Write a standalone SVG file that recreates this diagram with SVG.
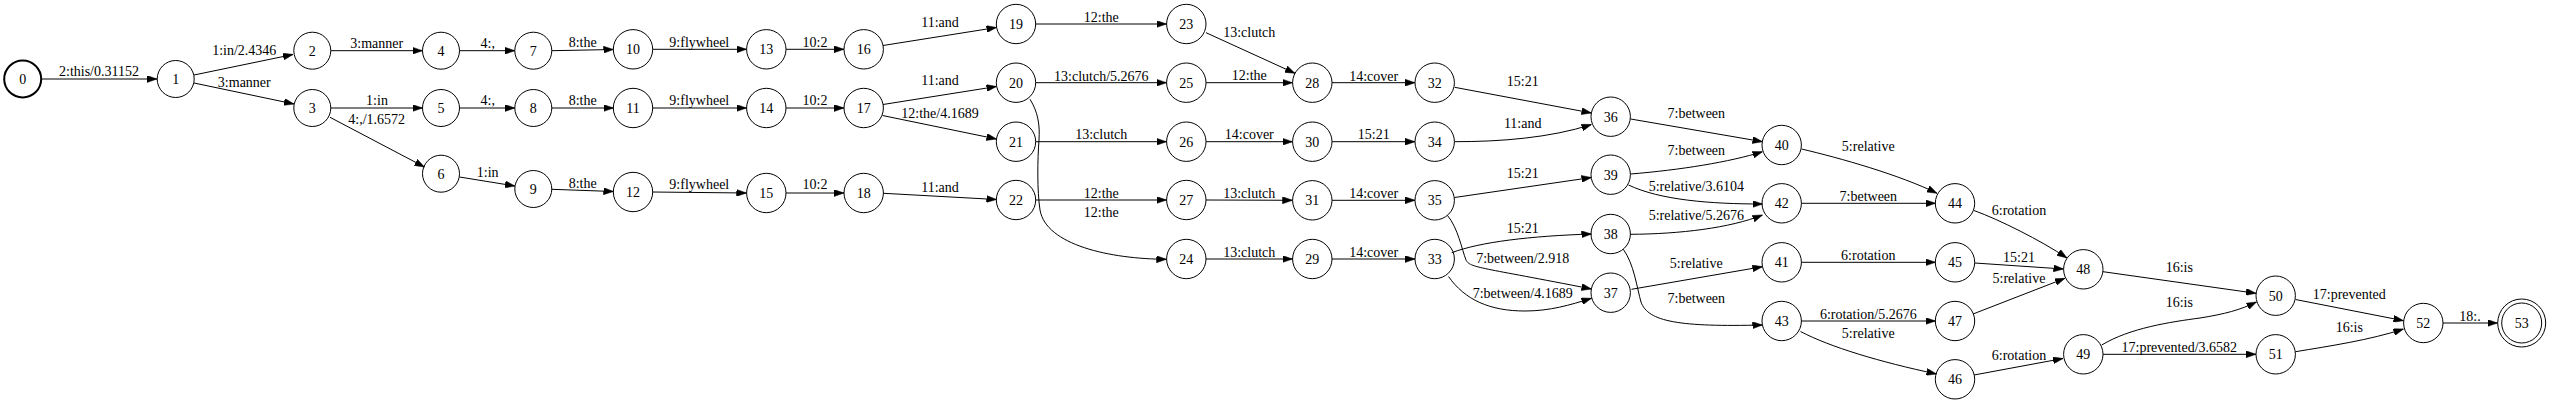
<svg xmlns="http://www.w3.org/2000/svg" width="2550" height="404" viewBox="0 0 2550 404">
<style>
text{font-family:"Liberation Serif","Times New Roman",serif;font-size:14px;fill:#000;text-anchor:middle}
.n circle{fill:none;stroke:#000;stroke-width:1}
.e path{fill:none;stroke:#000;stroke-width:1;marker-end:url(#arr)}
</style>
<defs>
<marker id="arr" markerUnits="userSpaceOnUse" markerWidth="10" markerHeight="7" viewBox="0 0 10 7" refX="10" refY="3.5" orient="auto"><path d="M0,0 L10,3.5 L0,7 z" fill="#000" stroke="#000" stroke-width="0.5"/></marker>
</defs>
<rect width="2550" height="404" fill="#fff"/>
<g id="edges" class="e">
<path d="M42,79 L157,79"/><text x="99" y="75.5">2:this/0.31152</text>
<path d="M194,75 L293,54.5"/><text x="244.3" y="55">1:in/2.4346</text>
<path d="M194,83 L294,104"/><text x="244.3" y="86.5">3:manner</text>
<path d="M331,50.7 L422.5,50.7"/><text x="376.7" y="47.5">3:manner</text>
<path d="M331,108 L422.5,108"/><text x="377" y="105">1:in</text>
<path d="M330,117.3 L424.5,167"/><text x="376.7" y="124.3">4:,/1.6572</text>
<path d="M459.5,50.7 L514.8,50.7"/><text x="487.7" y="47.5">4:,</text>
<path d="M459.5,108 L514.8,108"/><text x="487.7" y="105">4:,</text>
<path d="M459.5,177 L515,186"/><text x="487.7" y="176.5">1:in</text>
<path d="M551.8,50.7 L613.5,49.5"/><text x="582.7" y="46.5">8:the</text>
<path d="M551.8,108 L613.5,108"/><text x="582.7" y="105">8:the</text>
<path d="M551.8,189.3 L613.5,191.5"/><text x="582.7" y="187.5">8:the</text>
<path d="M652.8,49.3 L746.5,49.3"/><text x="699.3" y="46.5">9:flywheel</text>
<path d="M652.8,108 L746.5,108"/><text x="699.3" y="105">9:flywheel</text>
<path d="M652.8,192 L746.5,193"/><text x="699.3" y="188.5">9:flywheel</text>
<path d="M786,49.3 L844,49.3"/><text x="815" y="46.5">10:2</text>
<path d="M786,108 L844,108"/><text x="815" y="105">10:2</text>
<path d="M786,193 L844,193"/><text x="815" y="189">10:2</text>
<path d="M883,45.5 L996.5,27.5"/><text x="940" y="26.5">11:and</text>
<path d="M883,104.5 L996.5,86.5"/><text x="940" y="85.3">11:and</text>
<path d="M882.5,115.5 L996.5,139"/><text x="940" y="117.7">12:the/4.1689</text>
<path d="M883.5,193.3 L996.5,199.5"/><text x="940" y="191.7">11:and</text>
<path d="M1035.8,24 L1166.5,24"/><text x="1101.3" y="21.7">12:the</text>
<path d="M1035.8,82.7 L1166.5,82.7"/><text x="1101.3" y="80.7">13:clutch/5.2676</text>
<path d="M1030,99.3 C1038,112 1040,125 1039,140 C1037.5,160 1037,190 1040,210 C1046,245 1110,259 1166.5,259.3"/><text x="1101.3" y="216.7">12:the</text>
<path d="M1035.8,141.7 L1166.5,141.7"/><text x="1101.3" y="138.7">13:clutch</text>
<path d="M1035.8,200 L1166.5,200"/><text x="1101.3" y="197.7">12:the</text>
<path d="M1206,32.7 L1295,73.3"/><text x="1249.3" y="36.7">13:clutch</text>
<path d="M1206,82.7 L1292.5,82.7"/><text x="1249.3" y="80">12:the</text>
<path d="M1206,259 L1292.5,259"/><text x="1249.3" y="256.7">13:clutch</text>
<path d="M1206,141.7 L1292.5,141.7"/><text x="1249.3" y="138.7">14:cover</text>
<path d="M1206,200 L1292.5,200.3"/><text x="1249.3" y="197.7">13:clutch</text>
<path d="M1332,82.7 L1415,82.7"/><text x="1373.7" y="80.5">14:cover</text>
<path d="M1332,141.7 L1415,141.7"/><text x="1373.7" y="138.7">15:21</text>
<path d="M1332,200.3 L1415,200.3"/><text x="1373.7" y="197.7">14:cover</text>
<path d="M1332,259 L1415,259"/><text x="1373.7" y="256.7">14:cover</text>
<path d="M1454.7,87.3 L1591.5,113"/><text x="1522.7" y="86">15:21</text>
<path d="M1454.7,141.7 C1500,141.7 1550,138 1591.5,124.5"/><text x="1522.7" y="127.7">11:and</text>
<path d="M1454.5,197.5 L1591.5,177.5"/><text x="1522.7" y="177.7">15:21</text>
<path d="M1451.7,252.7 C1480,242 1530,236 1591.5,234"/><text x="1522.7" y="233">15:21</text>
<path d="M1447.5,215.5 C1458,228 1462,250 1466,260 C1470,268 1480,267 1591.5,289"/><text x="1522.7" y="263.3">7:between/2.918</text>
<path d="M1448.5,276.5 C1465,300 1490,311 1525,311 C1550,311 1570,305 1591.5,298.3"/><text x="1522.7" y="298.3">7:between/4.1689</text>
<path d="M1630.7,119 L1762.5,141.7"/><text x="1696.3" y="118.3">7:between</text>
<path d="M1630.5,174 C1680,170 1730,162 1762.5,151.7"/><text x="1696.3" y="155">7:between</text>
<path d="M1628.5,185 C1660,200 1710,204 1762.5,204"/><text x="1696.3" y="190.7">5:relative/3.6104</text>
<path d="M1630.5,234.3 C1680,234 1730,228 1762.5,215"/><text x="1696.3" y="220">5:relative/5.2676</text>
<path d="M1631.5,289.3 L1762.5,266.7"/><text x="1696.3" y="267.7">5:relative</text>
<path d="M1623.3,249.3 C1634,264 1637,288 1641,302 C1648,322 1680,327 1762.5,325"/><text x="1696.3" y="303.3">7:between</text>
<path d="M1801.5,149 C1840,158 1900,175 1937,193.3"/><text x="1868.3" y="150.7">5:relative</text>
<path d="M1801.5,203.3 L1935.5,203.3"/><text x="1868.3" y="201">7:between</text>
<path d="M1801.5,262.3 L1935.5,262.3"/><text x="1868.3" y="260">6:rotation</text>
<path d="M1801.5,321 L1935.5,321"/><text x="1868.3" y="318.7">6:rotation/5.2676</text>
<path d="M1800.5,331.5 C1830,347 1880,362 1936.5,374"/><text x="1868.3" y="337.7">5:relative</text>
<path d="M1974,210.5 C2000,220 2040,240 2067,258"/><text x="2019" y="215">6:rotation</text>
<path d="M1974.8,263 L2063.5,269"/><text x="2019" y="261.7">15:21</text>
<path d="M1973,314 L2065,278.3"/><text x="2019" y="282.7">5:relative</text>
<path d="M1974,375 L2063,358.5"/><text x="2019" y="360">6:rotation</text>
<path d="M2103,271.7 L2256,293.3"/><text x="2179.3" y="271.7">16:is</text>
<path d="M2101.7,345 C2130,328 2170,322 2200,318 C2225,314 2240,310 2256.5,302"/><text x="2179.3" y="306.7">16:is</text>
<path d="M2103,354.3 L2256,354.3"/><text x="2179.3" y="351.7">17:prevented/3.6582</text>
<path d="M2295.5,299.5 L2403.5,320.7"/><text x="2349.3" y="299.3">17:prevented</text>
<path d="M2295.5,351.7 C2330,346 2370,340 2403.5,329"/><text x="2349.3" y="331.7">16:is</text>
<path d="M2443,323 L2497.5,323"/><text x="2470" y="320.7">18:.</text>
</g>
<g id="n0" class="n"><circle cx="22.7" cy="79" r="18.5" style="stroke-width:2"/><text x="22.7" y="84">0</text></g>
<g id="n1" class="n"><circle cx="175.7" cy="79" r="18.5"/><text x="175.7" y="84">1</text></g>
<g id="n2" class="n"><circle cx="312.3" cy="50.7" r="18.5"/><text x="312.3" y="55.7">2</text></g>
<g id="n3" class="n"><circle cx="312.3" cy="108" r="18.5"/><text x="312.3" y="113">3</text></g>
<g id="n4" class="n"><circle cx="441" cy="50.7" r="18.5"/><text x="441" y="55.7">4</text></g>
<g id="n5" class="n"><circle cx="441" cy="108" r="18.5"/><text x="441" y="113">5</text></g>
<g id="n6" class="n"><circle cx="441" cy="173.7" r="18.5"/><text x="441" y="178.7">6</text></g>
<g id="n7" class="n"><circle cx="533.3" cy="50.7" r="18.5"/><text x="533.3" y="55.7">7</text></g>
<g id="n8" class="n"><circle cx="533.3" cy="108" r="18.5"/><text x="533.3" y="113">8</text></g>
<g id="n9" class="n"><circle cx="533.3" cy="189" r="18.5"/><text x="533.3" y="194">9</text></g>
<g id="n10" class="n"><circle cx="633" cy="49.3" r="19.7"/><text x="633" y="54.3">10</text></g>
<g id="n11" class="n"><circle cx="633" cy="108" r="19.7"/><text x="633" y="113">11</text></g>
<g id="n12" class="n"><circle cx="633" cy="192" r="19.7"/><text x="633" y="197">12</text></g>
<g id="n13" class="n"><circle cx="766.3" cy="49.3" r="19.7"/><text x="766.3" y="54.3">13</text></g>
<g id="n14" class="n"><circle cx="766.3" cy="108" r="19.7"/><text x="766.3" y="113">14</text></g>
<g id="n15" class="n"><circle cx="766.3" cy="193" r="19.7"/><text x="766.3" y="198">15</text></g>
<g id="n16" class="n"><circle cx="863.7" cy="49.3" r="19.7"/><text x="863.7" y="54.3">16</text></g>
<g id="n17" class="n"><circle cx="863.7" cy="108" r="19.7"/><text x="863.7" y="113">17</text></g>
<g id="n18" class="n"><circle cx="863.7" cy="193" r="19.7"/><text x="863.7" y="198">18</text></g>
<g id="n19" class="n"><circle cx="1016" cy="24" r="19.7"/><text x="1016" y="29">19</text></g>
<g id="n20" class="n"><circle cx="1016" cy="82.7" r="19.7"/><text x="1016" y="87.7">20</text></g>
<g id="n21" class="n"><circle cx="1016" cy="141.7" r="19.7"/><text x="1016" y="146.7">21</text></g>
<g id="n22" class="n"><circle cx="1016" cy="200" r="19.7"/><text x="1016" y="205">22</text></g>
<g id="n23" class="n"><circle cx="1186.3" cy="24" r="19.7"/><text x="1186.3" y="29">23</text></g>
<g id="n24" class="n"><circle cx="1186.3" cy="259" r="19.7"/><text x="1186.3" y="264">24</text></g>
<g id="n25" class="n"><circle cx="1186.3" cy="82.7" r="19.7"/><text x="1186.3" y="87.7">25</text></g>
<g id="n26" class="n"><circle cx="1186.3" cy="141.7" r="19.7"/><text x="1186.3" y="146.7">26</text></g>
<g id="n27" class="n"><circle cx="1186.3" cy="200" r="19.7"/><text x="1186.3" y="205">27</text></g>
<g id="n28" class="n"><circle cx="1312.3" cy="82.7" r="19.7"/><text x="1312.3" y="87.7">28</text></g>
<g id="n29" class="n"><circle cx="1312.3" cy="259" r="19.7"/><text x="1312.3" y="264">29</text></g>
<g id="n30" class="n"><circle cx="1312.3" cy="141.7" r="19.7"/><text x="1312.3" y="146.7">30</text></g>
<g id="n31" class="n"><circle cx="1312.3" cy="200.3" r="19.7"/><text x="1312.3" y="205.3">31</text></g>
<g id="n32" class="n"><circle cx="1434.7" cy="82.7" r="19.7"/><text x="1434.7" y="87.7">32</text></g>
<g id="n33" class="n"><circle cx="1434.7" cy="259" r="19.7"/><text x="1434.7" y="264">33</text></g>
<g id="n34" class="n"><circle cx="1434.7" cy="141.7" r="19.7"/><text x="1434.7" y="146.7">34</text></g>
<g id="n35" class="n"><circle cx="1434.7" cy="200.3" r="19.7"/><text x="1434.7" y="205.3">35</text></g>
<g id="n36" class="n"><circle cx="1610.7" cy="116.7" r="19.7"/><text x="1610.7" y="121.7">36</text></g>
<g id="n37" class="n"><circle cx="1610.7" cy="292.7" r="19.7"/><text x="1610.7" y="297.7">37</text></g>
<g id="n38" class="n"><circle cx="1610.7" cy="234" r="19.7"/><text x="1610.7" y="239">38</text></g>
<g id="n39" class="n"><circle cx="1610.7" cy="174.7" r="19.7"/><text x="1610.7" y="179.7">39</text></g>
<g id="n40" class="n"><circle cx="1781.7" cy="145" r="19.7"/><text x="1781.7" y="150">40</text></g>
<g id="n41" class="n"><circle cx="1781.7" cy="262.3" r="19.7"/><text x="1781.7" y="267.3">41</text></g>
<g id="n42" class="n"><circle cx="1781.7" cy="203.3" r="19.7"/><text x="1781.7" y="208.3">42</text></g>
<g id="n43" class="n"><circle cx="1781.7" cy="321" r="19.7"/><text x="1781.7" y="326">43</text></g>
<g id="n44" class="n"><circle cx="1955" cy="203.3" r="19.7"/><text x="1955" y="208.3">44</text></g>
<g id="n45" class="n"><circle cx="1955" cy="262.3" r="19.7"/><text x="1955" y="267.3">45</text></g>
<g id="n46" class="n"><circle cx="1955" cy="379.3" r="19.7"/><text x="1955" y="384.3">46</text></g>
<g id="n47" class="n"><circle cx="1955" cy="321" r="19.7"/><text x="1955" y="326">47</text></g>
<g id="n48" class="n"><circle cx="2083.3" cy="269.3" r="19.7"/><text x="2083.3" y="274.3">48</text></g>
<g id="n49" class="n"><circle cx="2083.3" cy="354.3" r="19.7"/><text x="2083.3" y="359.3">49</text></g>
<g id="n50" class="n"><circle cx="2275.7" cy="295.7" r="19.7"/><text x="2275.7" y="300.7">50</text></g>
<g id="n51" class="n"><circle cx="2275.7" cy="354.3" r="19.7"/><text x="2275.7" y="359.3">51</text></g>
<g id="n52" class="n"><circle cx="2423.3" cy="323" r="19.7"/><text x="2423.3" y="328">52</text></g>
<g id="n53" class="n"><circle cx="2521.7" cy="323" r="24"/><circle cx="2521.7" cy="323" r="20"/><text x="2521.7" y="328">53</text></g>
</svg>
